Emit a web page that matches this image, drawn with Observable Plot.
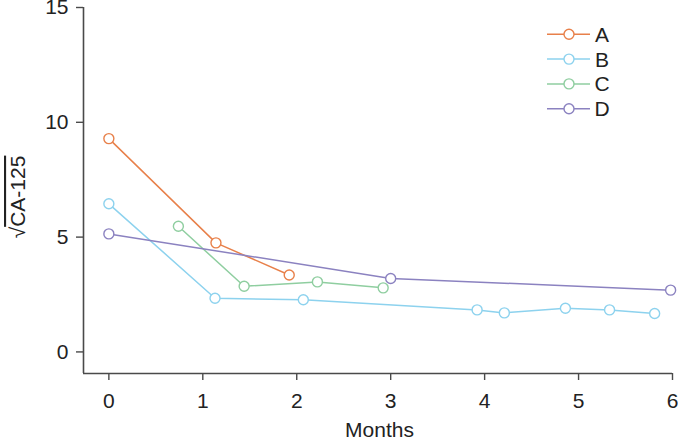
<!DOCTYPE html>
<html><head><meta charset="utf-8">
<script src="https://cdn.jsdelivr.net/npm/d3@7"></script>
<script src="https://cdn.jsdelivr.net/npm/@observablehq/plot@0.6"></script>
<style>
body{margin:0;background:#fff}
#chart{position:relative;width:678px;height:440px;font-family:"Liberation Sans",Arial,sans-serif}
</style>
</head><body><div id="chart"></div>
<script>
const seriesNames = ["A", "B", "C", "D"];
const seriesColors = ["#e8804a", "#8dd2ee", "#8fcea0", "#8b82c0"];
const monthsA = [0, 1.14, 1.92];
const valuesA = [9.29, 4.75, 3.35];
const monthsB = [0, 1.13, 2.07, 3.92, 4.21, 4.86, 5.33, 5.81];
const valuesB = [6.45, 2.34, 2.27, 1.83, 1.70, 1.90, 1.83, 1.67];
const monthsC = [0.74, 1.44, 2.22, 2.92];
const valuesC = [5.47, 2.86, 3.05, 2.79];
const monthsD = [0, 3.0, 5.98];
const valuesD = [5.14, 3.20, 2.69];
const xTicks = [0, 1, 2, 3, 4, 5, 6];
const yTicks = [0, 5, 10, 15];
const xLabel = "Months";
const yLabel = "CA-125";

const months = [monthsA, monthsB, monthsC, monthsD];
const values = [valuesA, valuesB, valuesC, valuesD];
const data = seriesNames.flatMap((s, i) => months[i].map((m, j) => ({series: s, month: m, value: values[i][j]})));

const xMin = -0.27, xMax = 6, yMin = -0.94, yMax = 15;
const axisColor = "#4a4a4a";
const font = '"Liberation Sans", Arial, sans-serif';

const plot = Plot.plot({
  width: 678, height: 440,
  marginLeft: 83, marginRight: 6, marginTop: 7, marginBottom: 67,
  style: {fontFamily: font, fontSize: "21px", color: "#222", background: "white"},
  x: {domain: [xMin, xMax]},
  y: {domain: [yMin, yMax]},
  color: {domain: seriesNames, range: seriesColors},
  marks: [
    Plot.ruleX([xMin], {y1: yMin, y2: yMax, stroke: axisColor, strokeWidth: 1.6}),
    Plot.ruleY([yMin], {x1: xMin, x2: xMax, stroke: axisColor, strokeWidth: 1.6}),
    Plot.axisY({ticks: yTicks, tickFormat: d => String(d), tickSize: 7, tickPadding: 8, fontSize: 21, label: null, stroke: axisColor, strokeWidth: 1.4, fill: "#222"}),
    Plot.axisX({ticks: xTicks, tickFormat: d => String(d), tickSize: 7, tickPadding: 13, fontSize: 21, label: null, stroke: axisColor, strokeWidth: 1.4, fill: "#222"}),
    Plot.line(data, {x: "month", y: "value", z: "series", stroke: "series", strokeWidth: 1.5}),
    Plot.dot(data, {x: "month", y: "value", stroke: "series", fill: "white", r: 5, strokeWidth: 1.4})
  ]
});

const svg = d3.select(plot);
// x axis title
svg.append("text").attr("x", 379.5).attr("y", 437).attr("text-anchor", "middle")
  .attr("font-size", 21).attr("fill", "#222").attr("font-family", font).text(xLabel);
// y axis title with radical
const yt = svg.append("text").attr("transform", "translate(25,197) rotate(-90)").attr("text-anchor", "middle")
  .attr("font-size", 21).attr("fill", "#222").attr("font-family", font);
yt.append("tspan").text("\u221A");
yt.append("tspan").attr("text-decoration", "overline").style("text-decoration", "overline").text(yLabel);

// legend
const lg = svg.append("g");
seriesNames.forEach((s, i) => {
  const y = 34.3 + i * 24.8;
  lg.append("line").attr("x1", 547).attr("x2", 590).attr("y1", y).attr("y2", y)
    .attr("stroke", seriesColors[i]).attr("stroke-width", 1.5);
  lg.append("circle").attr("cx", 569).attr("cy", y).attr("r", 5)
    .attr("fill", "white").attr("stroke", seriesColors[i]).attr("stroke-width", 1.4);
  lg.append("text").attr("x", 602).attr("y", y + 7.5).attr("font-size", 21)
    .attr("fill", "#222").attr("font-family", font).text(s);
});

document.getElementById("chart").appendChild(plot);
</script>
</body></html>
